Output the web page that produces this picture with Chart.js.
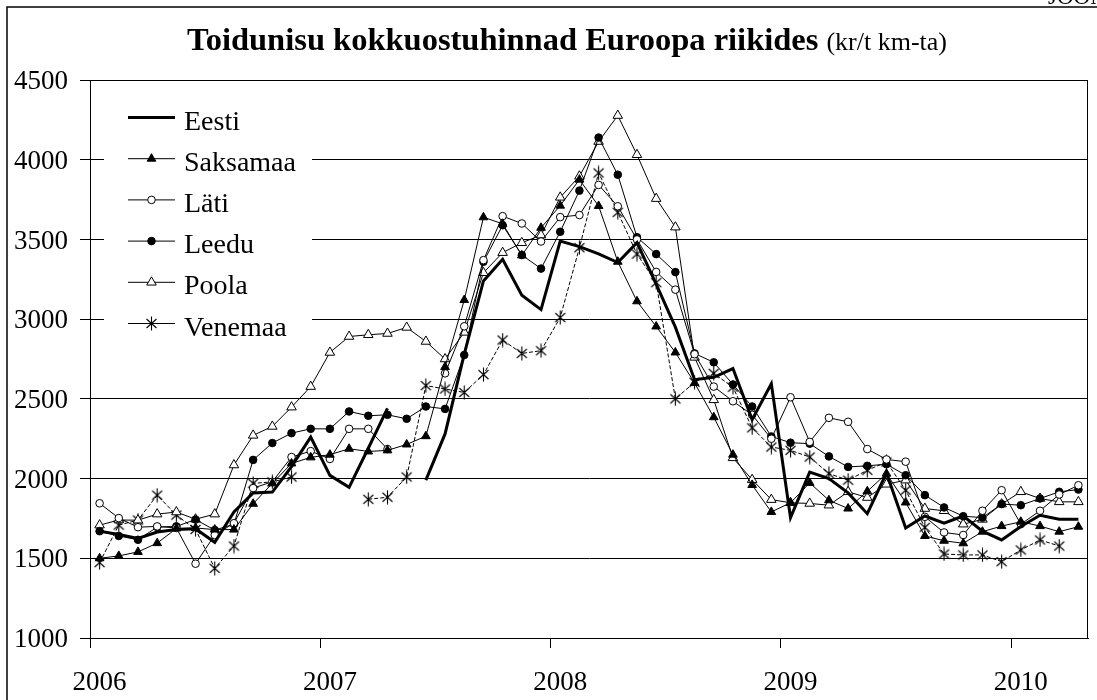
<!DOCTYPE html>
<html>
<head>
<meta charset="utf-8">
<script src="https://cdn.jsdelivr.net/npm/chart.js@4/dist/chart.umd.min.js"></script>
<style>
  html, body { margin: 0; padding: 0; background: #fff; overflow: hidden; }
  canvas { display: block; }
</style>
</head>
<body>
<canvas id="chart" width="1097" height="700"></canvas>
<script>
// kuud jaan 2006 .. apr 2010
const months = [
  '2006-01','2006-02','2006-03','2006-04','2006-05','2006-06','2006-07','2006-08','2006-09','2006-10','2006-11','2006-12',
  '2007-01','2007-02','2007-03','2007-04','2007-05','2007-06','2007-07','2007-08','2007-09','2007-10','2007-11','2007-12',
  '2008-01','2008-02','2008-03','2008-04','2008-05','2008-06','2008-07','2008-08','2008-09','2008-10','2008-11','2008-12',
  '2009-01','2009-02','2009-03','2009-04','2009-05','2009-06','2009-07','2009-08','2009-09','2009-10','2009-11','2009-12',
  '2010-01','2010-02','2010-03','2010-04'
];
const yearLabels = ['2006', '2007', '2008', '2009', '2010'];

const eesti = [
  1670, 1650, 1625, 1665, 1680, 1685, 1600, 1790, 1910, 1915, 2075, 2260,
  2020, 1945, 2190, 2440, null, 1990, 2280, 2780, 3240, 3375, 3150, 3060,
  3490, 3455, 3410, 3355, 3480, 3220, 2950, 2620, 2635, 2690, 2370, 2595,
  1755, 2040, 2000, 1910, 1780, 2035, 1690, 1765, 1720, 1765, 1670, 1615,
  1700, 1770, 1745, 1745
];
const saksamaa = [
  1500, 1515, 1540, 1595, 1687, 1690, 1680, 1680, 1842, 1970, 2095, 2133,
  2150, 2187, 2170, 2177, 2214, 2266, 2700, 3120, 3639, 3598, 3400, 3573,
  3712, 3875, 3710, 3360, 3112, 2954, 2791, 2600, 2385, 2150, 1960, 1791,
  1848, 1973, 1864, 1812, 1920, 2031, 1850, 1640, 1610, 1594, 1667, 1702,
  1729, 1702, 1667, 1698
];
const lati = [
  1845, 1752, 1695, 1700, 1690, 1466, 1646, 1720, 1940, 1980, 2135, 2172,
  2123, 2312, 2312, 2185, null, null, 2660, 2955, 3370, 3646, 3600, 3487,
  3640, 3653, 3842, 3708, 3500, 3296, 3185, 2780, 2577, 2485, 2400, 2250,
  2510, 2230, 2381, 2356, 2185, 2120, 2106, 1760, 1662, 1646, 1798, 1927,
  1714, 1798, 1900, 1958
];
const leedu = [
  1670, 1640, 1616, 1696, 1700, 1743, 1677, 1714, 2117, 2223, 2285, 2312,
  2312, 2421, 2394, 2400, 2375, 2452, 2437, 2775, 3360, 3589, 3402, 3317,
  3548, 3806, 4139, 3906, 3514, 3408, 3295, 2785, 2729, 2590, 2452, 2264,
  2225, 2219, 2139, 2073, 2080, 2090, 2021, 1896, 1819, 1764, 1755, 1840,
  1833, 1875, 1917, 1931
];
const poola = [
  1708, 1740, 1739, 1777, 1790, 1745, 1777, 2085, 2271, 2327, 2448, 2577,
  2791, 2891, 2902, 2910, 2948, 2860, 2750, 2917, 3291, 3417, 3479, 3527,
  3764, 3896, 4114, 4277, 4031, 3756, 3577, 2760, 2494, 2130, 1993, 1868,
  1848, 1844, 1833, 1917, 1881, 1964, 1990, 1812, 1798, 1714, 1744, 1840,
  1917, 1875, 1854, 1854
];
const venemaa = [
  1473, 1708, 1740, 1896, 1771, 1681, 1437, 1577, 1970, 1979, 2010, null,
  null, null, 1870, 1883, 2010, 2583, 2562, 2540, 2652, 2869, 2785, 2802,
  3010, 3448, 3917, 3670, 3408, 3229, 2500, 2604, 2660, 2573, 2318, 2198,
  2177, 2135, 2031, 1990, 2052, 2104, 1927, 1694, 1527, 1521, 1521, 1479,
  1552, 1615, 1577, null
];

const titleMain = 'Toidunisu kokkuostuhinnad Euroopa riikides';
const titleUnit = '(kr/t km-ta)';
const cornerText = 'JOONIS';

const serif = '"Liberation Serif", "Times New Roman", serif';

function pts(values) {
  return months.map((m, i) => ({ x: i, y: values[i] }));
}

// Excel-i "*" marker: X + pystjoon
function starMarker() {
  const c = document.createElement('canvas');
  c.width = 13; c.height = 15;
  const g = c.getContext('2d');
  g.strokeStyle = '#000';
  g.lineWidth = 1.1;
  g.beginPath();
  g.moveTo(6.5, 0.5); g.lineTo(6.5, 14.5);
  g.moveTo(1.5, 3); g.lineTo(11.5, 12);
  g.moveTo(11.5, 3); g.lineTo(1.5, 12);
  g.stroke();
  return c;
}

function series(label, values, extra) {
  return Object.assign({
    label: label,
    data: pts(values),
    borderColor: '#000',
    borderWidth: 1,
    tension: 0,
    spanGaps: false,
    pointBorderColor: '#000',
    pointBorderWidth: 1,
    pointHoverRadius: 0
  }, extra);
}

const datasets = [
  series('Eesti', eesti, { borderWidth: 3, pointRadius: 0 }),
  series('Saksamaa', saksamaa, { pointStyle: 'triangle', pointRadius: 5, pointBackgroundColor: '#000' }),
  series('Läti', lati, { pointStyle: 'circle', pointRadius: 3.8, pointBackgroundColor: '#fff' }),
  series('Leedu', leedu, { pointStyle: 'circle', pointRadius: 3.8, pointBackgroundColor: '#000' }),
  series('Poola', poola, { pointStyle: 'triangle', pointRadius: 5.5, pointBackgroundColor: '#fff' }),
  series('Venemaa', venemaa, { pointStyle: starMarker(), pointRadius: 6, borderDash: [4, 2], pointBackgroundColor: '#000' })
];

const frame = {
  id: 'frame',
  beforeDraw(chart) {
    const ctx = chart.ctx;
    ctx.save();
    ctx.fillStyle = '#fff';
    ctx.fillRect(0, 0, chart.width, chart.height);
    ctx.strokeStyle = '#000';
    ctx.lineWidth = 1.5;
    ctx.strokeRect(7, 7, 1300, 900);
    ctx.fillStyle = '#000';
    ctx.font = '23px ' + serif;
    ctx.textBaseline = 'alphabetic';
    ctx.fillText(cornerText, 1048, 4);
    ctx.font = 'bold 32.5px ' + serif;
    ctx.fillText(titleMain, 187, 50);
    const w = ctx.measureText(titleMain).width;
    ctx.font = '26px ' + serif;
    ctx.fillText(titleUnit, 187 + w + 8, 50);
    ctx.restore();
  },
  beforeDatasetsDraw(chart) {
    const a = chart.chartArea;
    const ctx = chart.ctx;
    ctx.save();
    ctx.strokeStyle = '#000';
    ctx.lineWidth = 1;
    ctx.strokeRect(Math.round(a.left) + 0.5, Math.round(a.top) + 0.5,
      Math.round(a.right - a.left) - 1, Math.round(a.bottom - a.top));
    ctx.restore();
  },
  afterDatasetsDraw(chart) {
    const ctx = chart.ctx;
    ctx.save();
    ctx.fillStyle = '#fff';
    ctx.fillRect(104, 96, 208, 248);
    chart.data.datasets.forEach((ds, k) => {
      const y = 117.5 + k * 41.2;
      ctx.strokeStyle = '#000';
      ctx.lineWidth = ds.borderWidth;
      ctx.beginPath();
      ctx.moveTo(128, y);
      ctx.lineTo(175, y);
      ctx.stroke();
      if (ds.pointRadius > 0) {
        ctx.fillStyle = ds.pointBackgroundColor;
        ctx.lineWidth = 1;
        Chart.helpers.drawPoint(ctx, { pointStyle: ds.pointStyle, radius: ds.pointRadius, rotation: 0, borderWidth: 1 }, 151.5, y);
      }
      ctx.fillStyle = '#000';
      ctx.font = '28px ' + serif;
      ctx.textBaseline = 'alphabetic';
      ctx.fillText(ds.label, 184, y + 12);
    });
    ctx.restore();
  }
};

new Chart(document.getElementById('chart'), {
  type: 'line',
  data: { datasets: datasets },
  options: {
    responsive: false,
    animation: false,
    devicePixelRatio: 1,
    layout: { padding: { top: 80, right: 9, bottom: 0, left: 0 } },
    plugins: {
      legend: { display: false },
      title: { display: false },
      tooltip: { enabled: false }
    },
    scales: {
      x: {
        type: 'linear',
        min: -0.5,
        max: months.length - 0.5,
        afterBuildTicks: (scale) => {
          scale.ticks = yearLabels.map((y, k) => ({ value: -0.5 + 12 * k }));
        },
        afterFit: (scale) => { scale.height = 62; },
        grid: { drawOnChartArea: false, drawTicks: true, tickLength: 10, color: '#000', lineWidth: 1 },
        border: { display: true, color: '#000', width: 1 },
        ticks: {
          color: '#000',
          font: { family: serif, size: 27 },
          padding: 19,
          labelOffset: 9.6,
          maxRotation: 0,
          autoSkip: false,
          callback: (v) => yearLabels[Math.round((v + 0.5) / 12)]
        }
      },
      y: {
        min: 1000,
        max: 4500,
        afterFit: (scale) => { scale.width = 90; },
        grid: { color: '#000', lineWidth: 1, drawTicks: true, tickLength: 10 },
        border: { display: true, color: '#000', width: 1 },
        ticks: {
          stepSize: 500,
          color: '#000',
          font: { family: serif, size: 27 },
          padding: 12,
          labelOffset: 2,
          callback: (v) => String(v)
        }
      }
    }
  },
  plugins: [frame]
});
</script>
</body>
</html>
